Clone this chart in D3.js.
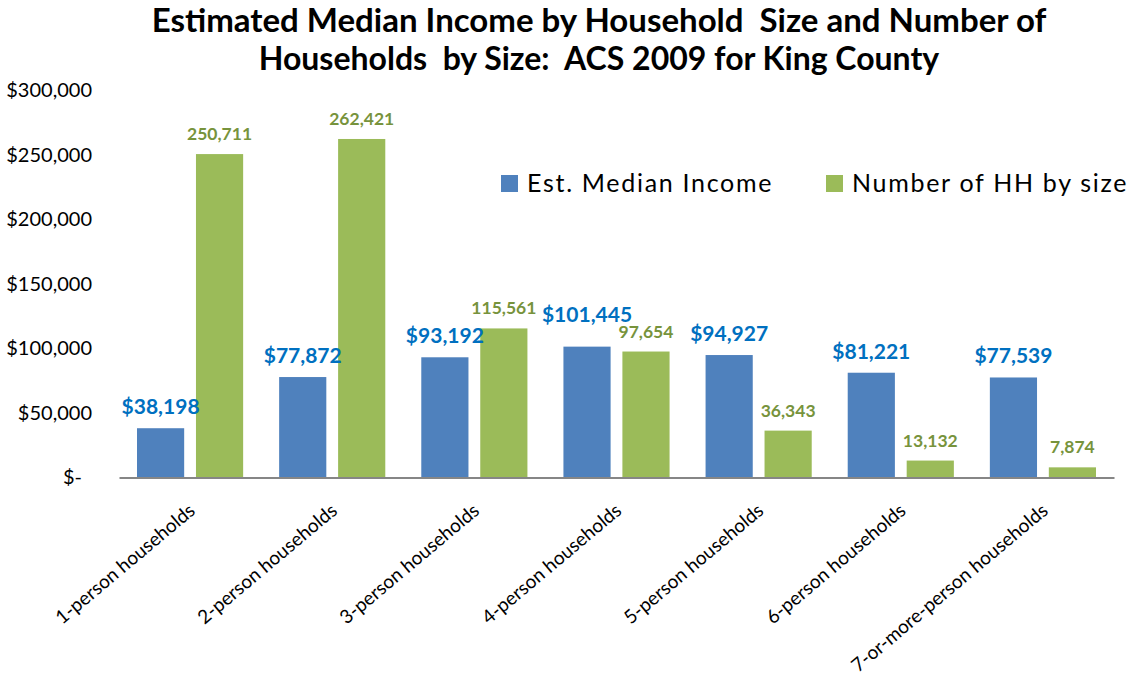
<!DOCTYPE html>
<html>
<head>
<meta charset="utf-8">
<script src="https://cdn.jsdelivr.net/npm/d3@7"></script>
<style>
  html, body { margin: 0; padding: 0; background: #fff; }
  svg { display: block; }
  text { font-family: Lato, "Open Sans", sans-serif; }
</style>
</head>
<body>
<svg id="chart" width="1129" height="677"></svg>
<script>
// ---- data ----
const categories = [
  "1-person households", "2-person households", "3-person households",
  "4-person households", "5-person households", "6-person households",
  "7-or-more-person households"
];
const medianIncome = [38198, 77872, 93192, 101445, 94927, 81221, 77539];
const householdCount = [250711, 262421, 115561, 97654, 36343, 13132, 7874];
const seriesNames = ["Est. Median Income", "Number of HH by size"];
const yTicks = [0, 50000, 100000, 150000, 200000, 250000, 300000];
const titleLines = [
  "Estimated Median Income by Household  Size and Number of",
  "Households  by Size:  ACS 2009 for King County"
];

// ---- layout ----
const svg = d3.select("#chart");
const plot = { left: 119, right: 1114, top: 90.5, bottom: 477.5 };
const colors = ["#4F81BD", "#9BBB59"];
const labelColors = ["#0070C0", "#77933C"];

const x = d3.scaleBand().domain(categories).range([plot.left, plot.right]).paddingInner(0).paddingOuter(0);
const xs = d3.scaleBand().domain([0, 1])
  .range([18, x.bandwidth() - 18]).paddingInner(0.2).paddingOuter(0);
const y = d3.scaleLinear().domain([0, 300000]).range([plot.bottom, plot.top]);

// title
svg.append("g").selectAll("text").data(titleLines).join("text")
  .attr("x", 599).attr("y", (d, i) => 32 + i * 38)
  .attr("text-anchor", "middle")
  .attr("font-weight", 700).attr("font-size", (d, i) => i === 0 ? 33 : 32)
  .style("white-space", "pre").attr("xml:space", "preserve")
  .attr("fill", "#000")
  .text(d => d);

// y axis
const yAxis = d3.axisLeft(y).tickValues(yTicks)
  .tickFormat(d => d === 0 ? "$-" : "$" + d3.format(",")(d))
  .tickSize(0).tickPadding(27);
const gy = svg.append("g").attr("transform", `translate(${plot.left},0)`).call(yAxis);
gy.select(".domain").remove();
gy.selectAll("text").attr("font-size", 20).attr("fill", "#000")
  .attr("font-family", "Lato, 'Open Sans', sans-serif")
  .attr("dx", d => d === 0 ? -10 : 0);

// bars
const groups = svg.append("g").selectAll("g").data(categories).join("g")
  .attr("transform", d => `translate(${x(d)},0)`);

const seriesData = [medianIncome, householdCount];
groups.selectAll("rect").data((d, i) => seriesData.map((s, k) => ({ k, v: s[i] })))
  .join("rect")
  .attr("x", d => xs(d.k))
  .attr("width", xs.bandwidth())
  .attr("y", d => y(d.v))
  .attr("height", d => plot.bottom - y(d.v))
  .attr("fill", d => colors[d.k]);

// x axis line
const xAxis = d3.axisBottom(x).tickSize(0).tickFormat("");
const gx = svg.append("g").attr("transform", `translate(0,${plot.bottom})`).call(xAxis);
gx.select(".domain").attr("stroke", "#868686").attr("stroke-width", 2);

// category labels
svg.append("g").selectAll("text").data(categories).join("text")
  .attr("transform", d => `translate(${x(d) + x.bandwidth() / 2 + 2},${plot.bottom + 30}) rotate(-40)`)
  .attr("text-anchor", "end")
  .attr("dy", "0.35em")
  .attr("font-size", 19)
  .attr("fill", "#000")
  .text(d => d);

// data labels
const liftedLabel = "4-person households";
groups.selectAll("text.val").data((d, i) => seriesData.map((s, k) => ({ k, v: s[i], cat: d })))
  .join("text").attr("class", "val")
  .attr("x", d => xs(d.k) + xs.bandwidth() / 2)
  .attr("y", d => y(d.v) - 14 - (d.k === 0 && d.cat === liftedLabel ? 11 : 0))
  .attr("text-anchor", "middle")
  .attr("font-weight", 700)
  .attr("font-size", d => d.k === 0 ? 21 : 17.5)
  .attr("fill", d => labelColors[d.k])
  .text(d => d.k === 0 ? "$" + d3.format(",")(d.v) : d3.format(",")(d.v));

// legend
const legendX = [501, 826];
const lg = svg.append("g").selectAll("g").data(seriesNames).join("g")
  .attr("transform", (d, i) => `translate(${legendX[i]},175)`);
lg.append("rect").attr("width", 17).attr("height", 17).attr("fill", (d, i) => colors[i]);
lg.append("text").attr("x", 26).attr("y", 17)
  .attr("font-size", 25).attr("letter-spacing", 1.7).attr("fill", "#000").text(d => d);
</script>
</body>
</html>
